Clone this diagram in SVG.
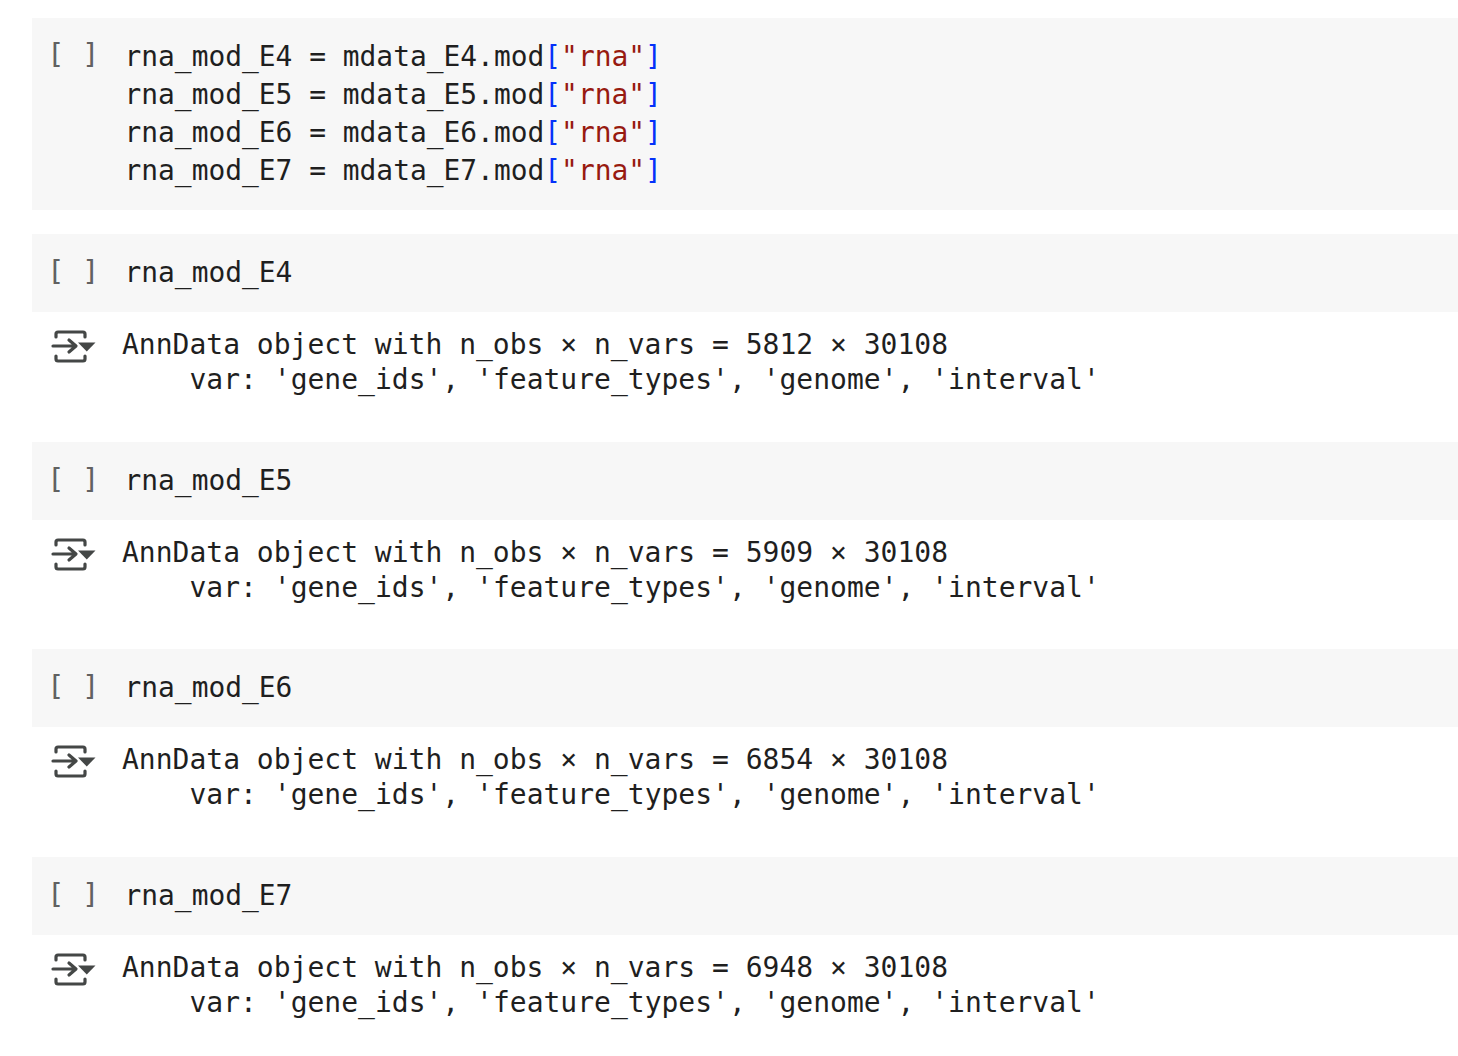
<svg xmlns="http://www.w3.org/2000/svg" width="1458" height="1056" viewBox="0 0 1458 1056">
<style>
.cell{fill:#f7f7f7}
.code{font-family:"DejaVu Sans Mono","Liberation Mono",monospace;font-size:27.9px;fill:#1f1f1f}
.out{font-family:"DejaVu Sans Mono","Liberation Mono",monospace;font-size:28px;fill:#1f1f1f}
.br{font-family:"DejaVu Sans Mono","Liberation Mono",monospace;font-size:29px;fill:#616161}
.b{fill:#0431fa}.s{fill:#971a10}
.ic{fill:none;stroke:#444746;stroke-width:3.2;stroke-linecap:round;stroke-linejoin:round}
</style>
<defs>
<g id="icon"><path class="ic" d="M56 337V334Q56 332 58 332H83Q85 332 85 334V337M56 356V359Q56 361 58 361H83Q85 361 85 359V356M53 346H75M69 340L76 346L69 352"/><path d="M78 342.500H95.500L86.750 351.500Z" fill="#444746"/></g>
</defs>
<rect width="1458" height="1056" fill="#fff"/>
<g id="cell-1"><rect class="cell" x="32" y="18" width="1426" height="192"/>
<text class="br" x="47" y="64">[ ]</text>
<text class="code" x="124.500" y="66">rna_mod_E4 = mdata_E4.mod<tspan class="b">[</tspan><tspan class="s">"rna"</tspan><tspan class="b">]</tspan></text>
<text class="code" x="124.500" y="104">rna_mod_E5 = mdata_E5.mod<tspan class="b">[</tspan><tspan class="s">"rna"</tspan><tspan class="b">]</tspan></text>
<text class="code" x="124.500" y="142">rna_mod_E6 = mdata_E6.mod<tspan class="b">[</tspan><tspan class="s">"rna"</tspan><tspan class="b">]</tspan></text>
<text class="code" x="124.500" y="180">rna_mod_E7 = mdata_E7.mod<tspan class="b">[</tspan><tspan class="s">"rna"</tspan><tspan class="b">]</tspan></text></g>
<g id="cell-2"><rect class="cell" x="32" y="234" width="1426" height="78"/>
<text class="br" x="47" y="281">[ ]</text><text class="code" x="124.500" y="282">rna_mod_E4</text>
<use href="#icon"/>
<text class="out" x="122" y="354">AnnData object with n_obs × n_vars = 5812 × 30108</text>
<text class="out" x="189.500" y="389">var: 'gene_ids', 'feature_types', 'genome', 'interval'</text></g>
<g id="cell-3"><rect class="cell" x="32" y="442" width="1426" height="78"/>
<text class="br" x="47" y="489">[ ]</text><text class="code" x="124.500" y="490">rna_mod_E5</text>
<use href="#icon" y="208"/>
<text class="out" x="122" y="562">AnnData object with n_obs × n_vars = 5909 × 30108</text>
<text class="out" x="189.500" y="597">var: 'gene_ids', 'feature_types', 'genome', 'interval'</text></g>
<g id="cell-4"><rect class="cell" x="32" y="649" width="1426" height="78"/>
<text class="br" x="47" y="696">[ ]</text><text class="code" x="124.500" y="697">rna_mod_E6</text>
<use href="#icon" y="415"/>
<text class="out" x="122" y="769">AnnData object with n_obs × n_vars = 6854 × 30108</text>
<text class="out" x="189.500" y="804">var: 'gene_ids', 'feature_types', 'genome', 'interval'</text></g>
<g id="cell-5"><rect class="cell" x="32" y="857" width="1426" height="78"/>
<text class="br" x="47" y="904">[ ]</text><text class="code" x="124.500" y="905">rna_mod_E7</text>
<use href="#icon" y="623"/>
<text class="out" x="122" y="977">AnnData object with n_obs × n_vars = 6948 × 30108</text>
<text class="out" x="189.500" y="1012">var: 'gene_ids', 'feature_types', 'genome', 'interval'</text></g>
</svg>
